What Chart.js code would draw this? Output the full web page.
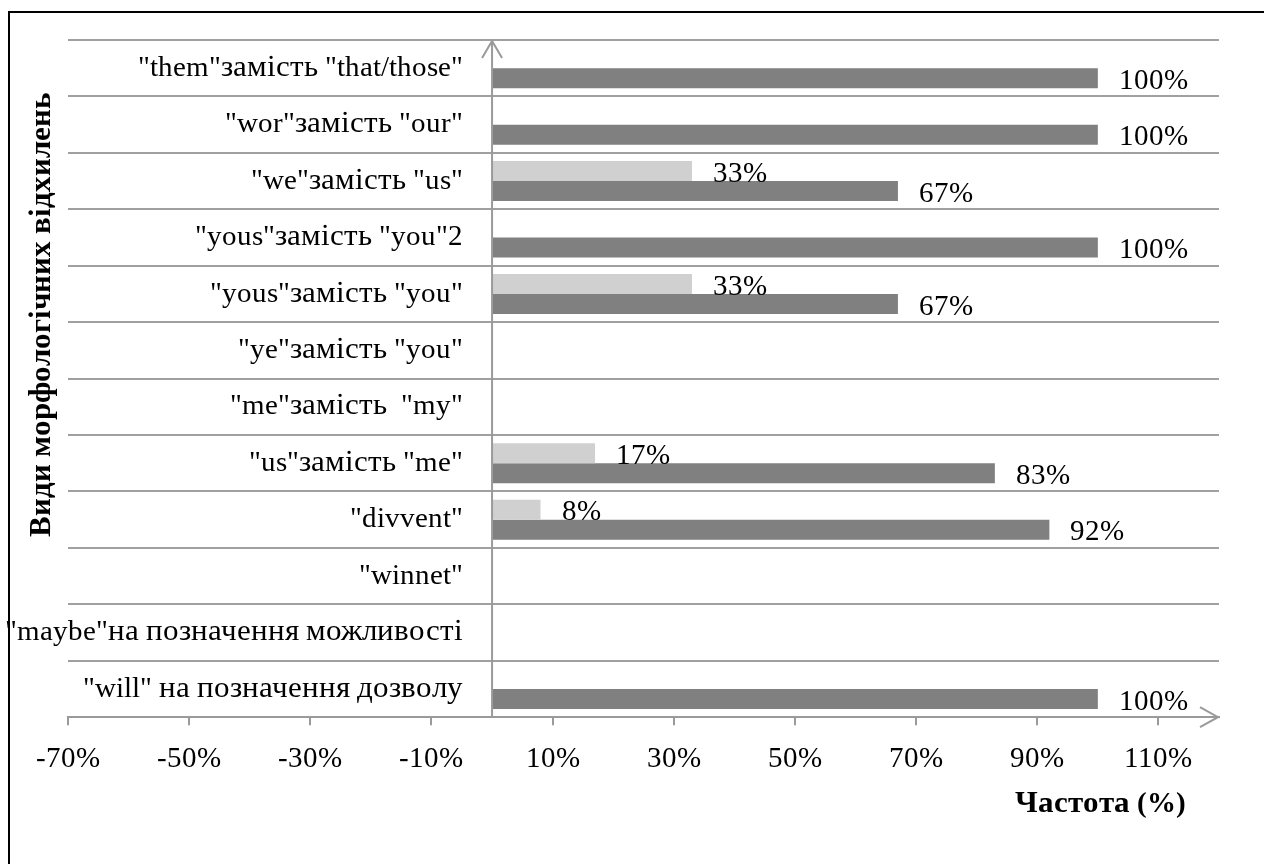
<!DOCTYPE html>
<html>
<head>
<meta charset="utf-8">
<script src="https://cdn.jsdelivr.net/npm/chart.js@4/dist/chart.umd.min.js"></script>
<style>
@font-face { font-family: 'SerifMix'; font-weight: normal; src: local('Liberation Serif'), local('LiberationSerif'); unicode-range: U+0000-03FF, U+2000-206F; }
@font-face { font-family: 'SerifMix'; font-weight: normal; src: local('Liberation Serif'), local('LiberationSerif'); unicode-range: U+0400-04FF; size-adjust: 108%; }
@font-face { font-family: 'SerifMix'; font-weight: bold; src: local('Liberation Serif Bold'), local('LiberationSerif-Bold'); unicode-range: U+0000-03FF, U+2000-206F; }
@font-face { font-family: 'SerifMix'; font-weight: bold; src: local('Liberation Serif Bold'), local('LiberationSerif-Bold'); unicode-range: U+0400-04FF; size-adjust: 108%; }
html,body{margin:0;padding:0;background:#fff;}
#wrap{width:1264px;height:864px;position:relative;}
canvas{display:block;}
</style>
</head>
<body>
<div id="wrap"><canvas id="c" width="1264" height="864"></canvas></div>
<script>
const categories = [
  '"them"замість "that/those"',
  '"wor"замість "our"',
  '"we"замість "us"',
  '"yous"замість "you"2',
  '"yous"замість "you"',
  '"ye"замість "you"',
  '"me"замість  "my"',
  '"us"замість "me"',
  '"divvent"',
  '"winnet"',
  '"maybe"на позначення можливості',
  '"will" на позначення дозволу'
];
const lightSeries = [null, null, 33, null, 33, null, null, 17, 8, null, null, null];
const darkSeries  = [100, 100, 67, 100, 67, null, null, 83, 92, null, null, 100];
const xTickValues = [-70, -50, -30, -10, 10, 30, 50, 70, 90, 110];
const xMin = -70;
const xMax = 120;
const yAxisTitle = 'Види морфологічних відхилень';
const xAxisTitle = 'Частота (%)';

const FONT = 'SerifMix, "Liberation Serif", "Times New Roman", serif';
const AXIS_GRAY = '#9a9a9a';

function build() {
  Chart.defaults.font.family = FONT;
  Chart.defaults.font.size = 29;
  Chart.defaults.color = '#000';

  const decor = {
    id: 'decor',
    afterDatasetsDraw(chart) {
      const ctx = chart.ctx;
      const a = chart.chartArea;
      const x = chart.scales.x;
      const x0 = x.getPixelForValue(0);
      ctx.save();
      ctx.strokeStyle = AXIS_GRAY;
      ctx.lineWidth = 2;
      ctx.beginPath();
      ctx.moveTo(x0, a.bottom);
      ctx.lineTo(x0, a.top + 1);
      ctx.stroke();
      ctx.beginPath();
      ctx.moveTo(x0 - 10, a.top + 18);
      ctx.lineTo(x0, a.top + 1);
      ctx.lineTo(x0 + 10, a.top + 18);
      ctx.stroke();
      ctx.beginPath();
      ctx.moveTo(a.right - 19, a.bottom - 10);
      ctx.lineTo(a.right - 1, a.bottom);
      ctx.lineTo(a.right - 19, a.bottom + 10);
      ctx.stroke();
      ctx.fillStyle = '#000';
      ctx.font = '29px ' + FONT;
      ctx.textAlign = 'left';
      ctx.textBaseline = 'middle';
      chart.data.datasets.forEach((ds, i) => {
        const meta = chart.getDatasetMeta(i);
        meta.data.forEach((el, j) => {
          const v = ds.data[j];
          if (v === null || v === undefined) return;
          ctx.fillText(v + '%', el.x + 21, el.y + 3);
        });
      });
      ctx.restore();
    },
    afterDraw(chart) {
      const ctx = chart.ctx;
      ctx.save();
      ctx.fillStyle = '#000';
      ctx.font = 'bold 29px ' + FONT;
      ctx.textAlign = 'right';
      ctx.textBaseline = 'middle';
      ctx.fillText(xAxisTitle, 1186, 805);
      ctx.translate(43, 315);
      ctx.rotate(-Math.PI / 2);
      ctx.textAlign = 'center';
      ctx.textBaseline = 'middle';
      ctx.fillText(yAxisTitle, 0, 0);
      ctx.restore();
      ctx.save();
      ctx.strokeStyle = '#000';
      ctx.lineWidth = 2;
      ctx.beginPath();
      ctx.moveTo(9, 864);
      ctx.lineTo(9, 12);
      ctx.lineTo(1264, 12);
      ctx.stroke();
      ctx.restore();
    }
  };

  new Chart(document.getElementById('c').getContext('2d'), {
    type: 'bar',
    data: {
      labels: categories,
      datasets: [
        { label: 'light', data: lightSeries, backgroundColor: '#d0d0d0', categoryPercentage: 0.71, barPercentage: 1.0 },
        { label: 'dark', data: darkSeries, backgroundColor: '#808080', categoryPercentage: 0.71, barPercentage: 1.0 }
      ]
    },
    options: {
      indexAxis: 'y',
      responsive: false,
      animation: false,
      layout: { padding: { left: 68, right: 45, top: 40, bottom: 70 } },
      plugins: { legend: { display: false }, tooltip: { enabled: false }, title: { display: false } },
      scales: {
        x: {
          type: 'linear',
          position: 'bottom',
          min: xMin,
          max: xMax,
          afterBuildTicks: (s) => { s.ticks = xTickValues.map(v => ({ value: v })); },
          ticks: { padding: 17, autoSkip: false, maxRotation: 0, color: '#000', callback: (v) => v + '%' },
          grid: { drawOnChartArea: false, drawTicks: true, tickLength: 8, color: AXIS_GRAY, lineWidth: 2 },
          border: { display: true, color: AXIS_GRAY, width: 2 }
        },
        y: {
          type: 'category',
          position: { x: -4.8 },
          ticks: { color: '#000', autoSkip: false, padding: 0 },
          grid: { offset: true, drawTicks: false, color: '#a0a0a0', lineWidth: 2 },
          border: { display: false }
        }
      }
    },
    plugins: [decor]
  });
}

Promise.all([
  document.fonts.load('29px SerifMix', 'аbз'),
  document.fonts.load('bold 29px SerifMix', 'аbз')
]).then(build, build);
</script>
</body>
</html>
